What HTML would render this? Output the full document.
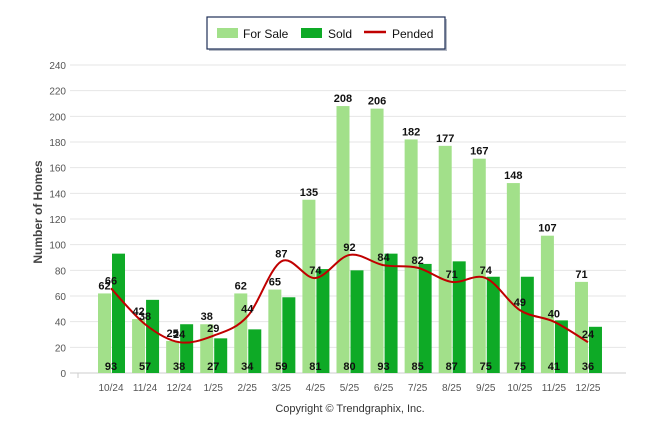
<!DOCTYPE html>
<html><head><meta charset="utf-8"><style>
html,body{margin:0;padding:0;background:#fff;}
svg text{font-family:"Liberation Sans",Arial,sans-serif;}
</style></head><body>
<svg id="chart" width="646" height="434" viewBox="0 0 646 434" xmlns="http://www.w3.org/2000/svg">
<g>
<rect x="209" y="19" width="238" height="32" fill="#2a3a5a" opacity="0.35"/>
<rect x="207" y="17" width="238" height="32" fill="#fff" stroke="#1f2f57" stroke-width="1.2"/>
<rect x="217" y="28" width="21" height="10" fill="#a2e08a"/>
<text x="243" y="38" font-size="12" fill="#111">For Sale</text>
<rect x="301" y="28" width="21" height="10" fill="#0eaa26"/>
<text x="328" y="38" font-size="12" fill="#111">Sold</text>
<line x1="364" y1="32" x2="386" y2="32" stroke="#c00000" stroke-width="2.5"/>
<text x="392" y="38" font-size="12" fill="#111">Pended</text>
</g>
<g id="grid"></g><g id="bars"></g><g id="line"></g><g id="labels"></g>
<text transform="translate(42,212) rotate(-90)" text-anchor="middle" font-size="12" font-weight="bold" fill="#444">Number of Homes</text>
<text x="350" y="412" text-anchor="middle" font-size="11" fill="#333">Copyright © Trendgraphix, Inc.</text>
</svg>
<script>
const categories=["10/24","11/24","12/24","1/25","2/25","3/25","4/25","5/25","6/25","7/25","8/25","9/25","10/25","11/25","12/25"];
const forSale=[62,42,25,38,62,65,135,208,206,182,177,167,148,107,71];
const sold=[93,57,38,27,34,59,81,80,93,85,87,75,75,41,36];
const pended=[66,38,24,29,44,87,74,92,84,82,71,74,49,40,24];
const yTicks=[0,20,40,60,80,100,120,140,160,180,200,220,240];
const NS="http://www.w3.org/2000/svg";
const y=v=>373-v*(308/240);
const xc=i=>111+i*34.07;
function mk(tag,attrs,parent,text){const e=document.createElementNS(NS,tag);for(const k in attrs)e.setAttribute(k,attrs[k]);if(text!==undefined)e.textContent=text;parent.appendChild(e);return e;}
const grid=document.getElementById('grid'),bars=document.getElementById('bars'),lineG=document.getElementById('line'),labels=document.getElementById('labels');
yTicks.forEach(t=>{
  const l=mk('line',{x1:70,x2:626,y1:y(t),y2:y(t),stroke:t===0?'#ccc':'#e6e6e6','stroke-width':1},grid);
  
  
  const tx=mk('text',{x:66,y:y(t)+4,'text-anchor':'end','font-size':10,fill:'#555'},grid,t);
  
  
});
const tk=mk('line',{x1:78,x2:78,y1:373,y2:378,stroke:'#ccc'},grid);


categories.forEach((c,i)=>{
  const cx=xc(i);
  const b1=mk('rect',{x:cx-13,y:y(forSale[i]),width:13,height:373-y(forSale[i]),fill:'#a2e08a'},bars);
  
  
  const b2=mk('rect',{x:cx+1,y:y(sold[i]),width:13,height:373-y(sold[i]),fill:'#0eaa26'},bars);
  
  
  const xl=mk('text',{x:cx,y:391,'text-anchor':'middle','font-size':10,fill:'#555'},grid,c);
  
  
});
// smooth line (catmull-rom)
const pts=pended.map((v,i)=>[xc(i),y(v)]);
let d='M'+pts[0][0]+','+pts[0][1];
for(let i=0;i<pts.length-1;i++){
  const p0=pts[Math.max(0,i-1)],p1=pts[i],p2=pts[i+1],p3=pts[Math.min(pts.length-1,i+2)];
  const t=6;
  d+=` C${p1[0]+(p2[0]-p0[0])/t},${p1[1]+(p2[1]-p0[1])/t} ${p2[0]-(p3[0]-p1[0])/t},${p2[1]-(p3[1]-p1[1])/t} ${p2[0]},${p2[1]}`;
}
const pl=mk('path',{d:d,fill:'none',stroke:'#c00000','stroke-width':2},lineG);


categories.forEach((c,i)=>{
  const cx=xc(i);
  const a=mk('text',{x:cx-6.5,y:y(forSale[i])-4,'text-anchor':'middle','font-size':11,'font-weight':'bold',fill:'#111'},labels,forSale[i]);
  
  
  const b=mk('text',{x:cx,y:y(pended[i])-4,'text-anchor':'middle','font-size':11,'font-weight':'bold',fill:'#111'},labels,pended[i]);
  
  
  const s=mk('text',{x:cx,y:370,'text-anchor':'middle','font-size':11,'font-weight':'bold',fill:'#111'},labels,sold[i]);
  
  
});
</script>
</body></html>
